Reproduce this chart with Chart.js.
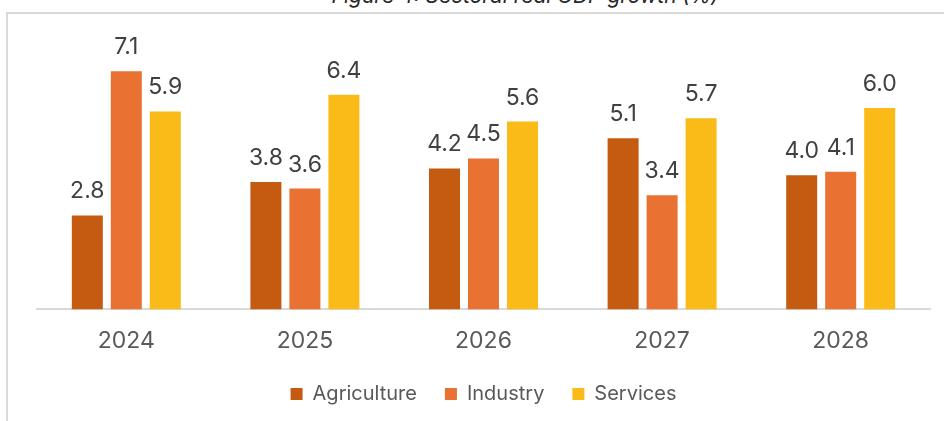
<!DOCTYPE html>
<html>
<head>
<meta charset="utf-8">
<script src="https://cdn.jsdelivr.net/npm/chart.js@4"></script>
<style>
  html, body { margin: 0; padding: 0; background: #fff; overflow: hidden; }
  #wrap { position: relative; width: 944px; height: 421px; }
  #frame {
    position: absolute; left: 6px; top: 12px; width: 960px; height: 440px;
    border-left: 2px solid #d9d9d9; border-top: 2px solid #d9d9d9;
  }
  #caption {
    position: absolute; left: 0; width: 1050px; top: -17px; text-align: center;
    font: italic 21px Inter, sans-serif; color: #262626;
  }
  canvas { position: absolute; left: 0; top: 0; }
</style>
</head>
<body>
<div id="wrap">
  <div id="caption">Figure 4: Sectoral real GDP growth (%)</div>
  <div id="frame"></div>
  <canvas id="gdp-chart" width="944" height="421"></canvas>
</div>
<script>
  var years = ["2024", "2025", "2026", "2027", "2028"];
  var agriculture = [2.8, 3.8, 4.2, 5.1, 4.0];
  var industry = [7.1, 3.6, 4.5, 3.4, 4.1];
  var services = [5.9, 6.4, 5.6, 5.7, 6.0];

  Chart.defaults.font.family = "Inter, sans-serif";
  Chart.defaults.color = "#595959";

  // value labels above every bar
  var barValues = {
    id: "barValues",
    afterDatasetsDraw: function (chart) {
      var ctx = chart.ctx;
      ctx.save();
      ctx.font = "23px Inter, sans-serif";
      ctx.fillStyle = "#404040";
      ctx.textAlign = "center";
      ctx.textBaseline = "alphabetic";
      chart.data.datasets.forEach(function (ds, i) {
        chart.getDatasetMeta(i).data.forEach(function (bar, j) {
          ctx.fillText(ds.data[j].toFixed(1), bar.x, bar.y - 17);
        });
      });
      ctx.restore();
    },
  };

  // keep the legend row a bit closer to the axis labels
  var legendRow = {
    id: "legendRow",
    afterLayout: function (chart) {
      var lg = chart.legend;
      var h = lg.bottom - lg.top;
      lg.top = 356;
      lg.bottom = 356 + h;
    },
  };

  var ctx = document.getElementById("gdp-chart");
  var myChart = new Chart(ctx.getContext("2d"), {
    type: "bar",
    data: {
      labels: years,
      datasets: [
        { label: "Agriculture", data: agriculture, backgroundColor: "#C55A11" },
        { label: "Industry", data: industry, backgroundColor: "#E97132" },
        { label: "Services", data: services, backgroundColor: "#FABA17" },
      ],
    },
    options: {
      responsive: false,
      animation: false,
      events: [],
      categoryPercentage: 0.655,
      barPercentage: 0.795,
      layout: { padding: { top: 41, left: 37, right: 14, bottom: -10 } },
      scales: {
        x: {
          grid: { display: false, drawTicks: false },
          border: { display: true, color: "#d9d9d9", width: 2 },
          ticks: { font: { size: 23 }, color: "#595959", padding: 18 },
        },
        y: { display: false, min: 0, max: 8 },
      },
      plugins: {
        tooltip: { enabled: false },
        legend: {
          position: "bottom",
          labels: {
            boxWidth: 12,
            boxHeight: 12,
            padding: 28,
            font: { size: 20 },
            color: "#595959",
          },
        },
      },
    },
    plugins: [barValues, legendRow],
  });
</script>
</body>
</html>
